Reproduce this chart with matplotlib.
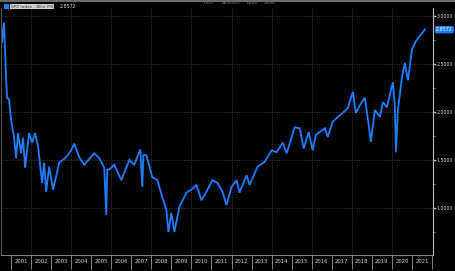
import matplotlib
matplotlib.use("Agg")
import matplotlib.pyplot as plt
from matplotlib.ticker import FixedLocator, FuncFormatter, MultipleLocator
from matplotlib.patches import Rectangle

# ---- data (year fraction, SPX Index - BEst P/S) ----
years = [2000.50, 2000.55, 2000.65, 2000.75, 2000.80, 2000.90, 2001.00, 2001.15, 2001.25, 2001.35,
         2001.50, 2001.60, 2001.70, 2001.90, 2002.05, 2002.20, 2002.35, 2002.55, 2002.65, 2002.75,
         2002.90, 2003.10, 2003.40, 2003.75, 2004.00, 2004.15, 2004.40, 2004.65, 2005.15, 2005.40,
         2005.65, 2005.75, 2005.80, 2005.90, 2006.15, 2006.50, 2006.90, 2007.15, 2007.45, 2007.55,
         2007.60, 2007.75, 2008.05, 2008.30, 2008.55, 2008.75, 2008.85, 2009.00, 2009.15, 2009.40,
         2009.75, 2010.00, 2010.25, 2010.50, 2010.75, 2011.05, 2011.30, 2011.55, 2011.75, 2012.00,
         2012.25, 2012.40, 2012.75, 2012.90, 2013.30, 2013.65, 2014.00, 2014.25, 2014.55, 2014.75,
         2015.15, 2015.40, 2015.60, 2015.85, 2016.05, 2016.20, 2016.65, 2016.80, 2017.05, 2017.55,
         2017.80, 2018.05, 2018.20, 2018.40, 2018.65, 2018.80, 2018.95, 2019.15, 2019.40, 2019.55,
         2019.75, 2020.05, 2020.15, 2020.20, 2020.30, 2020.50, 2020.65, 2020.80, 2021.00, 2021.15,
         2021.30, 2021.50, 2021.65]
values = [2.94, 2.72, 2.93, 2.37, 2.15, 2.13, 1.92, 1.74, 1.52, 1.78,
          1.57, 1.73, 1.42, 1.78, 1.68, 1.78, 1.64, 1.26, 1.47, 1.17,
          1.43, 1.19, 1.47, 1.53, 1.60, 1.67, 1.53, 1.45, 1.57, 1.52,
          1.42, 0.93, 1.40, 1.40, 1.45, 1.29, 1.50, 1.45, 1.61, 1.22,
          1.55, 1.55, 1.32, 1.29, 1.11, 0.98, 0.75, 0.95, 0.75, 1.01,
          1.16, 1.19, 1.24, 1.08, 1.17, 1.29, 1.26, 1.17, 1.03, 1.22,
          1.29, 1.16, 1.34, 1.24, 1.43, 1.48, 1.60, 1.58, 1.68, 1.57,
          1.84, 1.83, 1.62, 1.79, 1.60, 1.76, 1.83, 1.74, 1.90, 1.99,
          2.04, 2.21, 1.99, 2.07, 2.15, 1.93, 1.69, 2.02, 1.95, 2.10,
          2.05, 2.31, 2.05, 1.58, 2.02, 2.36, 2.51, 2.33, 2.65, 2.72,
          2.77, 2.82, 2.86]
last_value = 2.8572
year_labels = [str(y) for y in range(2001, 2022)]
y_ticks = [1.0, 1.5, 2.0, 2.5, 3.0]
series_name = "SPX Index - BEst P/S"
toolbar = ["Track", "Annotate", "News", "Zoom"]

W, H = 455, 271
fig = plt.figure(figsize=(W / 100, H / 100), dpi=100, facecolor="black")
ax = fig.add_axes([1 / W, (H - 255) / H, 432 / W, 247 / H], facecolor="black")

blue = "#1f7eff"
ax.plot(years, values, color=blue, lw=1.3, solid_joinstyle="miter")

ax.set_xlim(2000.5, 2022.05)
ax.set_ylim(0.51, 3.083)

# gridlines
for yv in y_ticks:
    ax.axhline(yv, color="#3a3a3a", lw=0.6, ls=(0, (1.5, 1.5)), zorder=0)
for xv in range(2002, 2022, 2):
    ax.axvline(xv, color="#3a3a3a", lw=0.6, ls=(0, (1.5, 1.5)), zorder=0)

# x axis: year boundaries as ticks, labels in the middle
ax.xaxis.set_major_locator(FixedLocator(range(2001, 2023)))
ax.xaxis.set_major_formatter(FuncFormatter(lambda v, p: ""))
ax.set_xticks([int(y) + 0.5 for y in year_labels], labels=year_labels, minor=True)
ax.tick_params(axis="x", which="major", length=10, width=0.6, color="#9a9a9a", direction="out")
ax.tick_params(axis="x", which="minor", length=0, labelsize=3.8, labelcolor="#d8d8d8", pad=3)

# y axis on right
ax.yaxis.tick_right()
ax.set_yticks(y_ticks)
ax.yaxis.set_major_formatter(FuncFormatter(lambda v, p: f"{v:.4f}"))
ax.yaxis.set_minor_locator(MultipleLocator(0.25))
ax.tick_params(axis="y", which="major", length=1.8, width=1, color="#bbbbbb",
               labelsize=3.4, labelcolor="#d8d8d8", pad=1)
ax.tick_params(axis="y", which="minor", length=1.3, width=0.6, color="#888888")

ax.spines["top"].set_visible(False)
ax.spines["right"].set_color("#bdbdbd")
ax.spines["right"].set_linewidth(0.8)
ax.spines["bottom"].set_color("#9a9a9a")
ax.spines["bottom"].set_linewidth(0.6)
ax.spines["left"].set_color("#555555")
ax.spines["left"].set_linewidth(0.8)

# last value tag on the right axis
ax.annotate(f"{last_value:.4f}", xy=(1.0, last_value), xycoords=("axes fraction", "data"),
            xytext=(2.2, 0), textcoords="offset points", va="center", ha="left",
            fontsize=3.4, color="white",
            bbox=dict(boxstyle="round,pad=0.25,rounding_size=0.35", fc=blue, ec="none"),
            annotation_clip=False)

# top border
fig.patches.append(Rectangle((0, 1 - 2 / H), 1, 2 / H, transform=fig.transFigure,
                             fc="#6a6a6a", ec="none"))

# legend at top left
fig.patches.append(Rectangle((4 / W, 1 - 9 / H), 5 / W, 5 / H, transform=fig.transFigure,
                             fc=blue, ec="none"))
fig.text(11 / W, 1 - 6.5 / H, series_name, fontsize=3.1, color="#333333", va="center", ha="left",
         bbox=dict(boxstyle="square,pad=0.15", fc="#d0d0d0", ec="none"))
fig.text(60 / W, 1 - 6.5 / H, f"{last_value:.4f}", fontsize=3.4, color="#e0e0e0",
         va="center", ha="left")

# toolbar buttons
for xpos, lab in zip([202, 222, 247, 264], toolbar):
    fig.text(xpos / W, 1 - 3.5 / H, lab, fontsize=3.0, color="#6e6e6e", va="center", ha="left")

fig.savefig("out.png", dpi=100, facecolor="black")
